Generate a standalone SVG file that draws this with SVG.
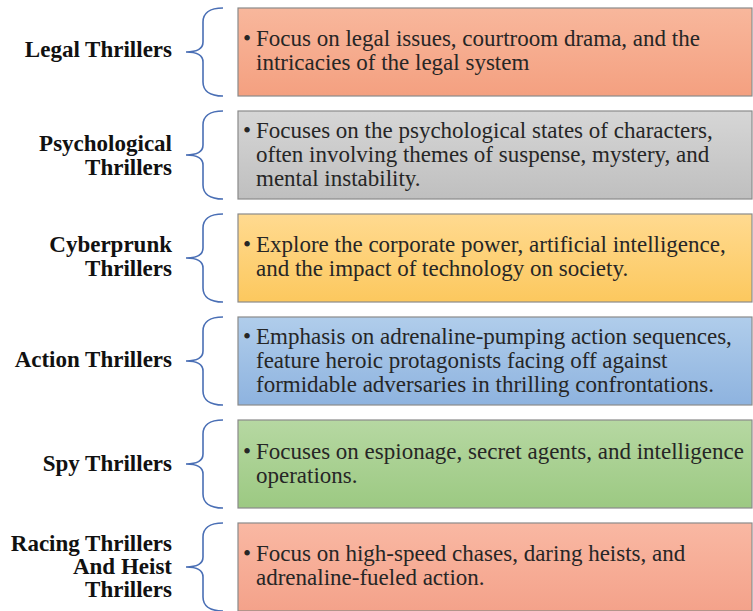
<svg xmlns="http://www.w3.org/2000/svg" width="753" height="611" viewBox="0 0 753 611">
<style>
.lbl{font-family:"Liberation Serif","Times New Roman",serif;font-weight:bold;font-size:23px;fill:#111;text-anchor:end}
.txt{font-family:"Liberation Serif","Times New Roman",serif;font-size:23px;fill:#262626}
.box{stroke:#8a8a8a;stroke-width:1.2}
.brace{fill:none;stroke:#4a6fb5;stroke-width:1.6}
</style>
<defs>
<linearGradient id="gOrange" x1="0" y1="0" x2="0" y2="1"><stop offset="0" stop-color="#f8b79c"/><stop offset="1" stop-color="#f4a080"/></linearGradient>
<linearGradient id="gGray" x1="0" y1="0" x2="0" y2="1"><stop offset="0" stop-color="#d6d6d6"/><stop offset="1" stop-color="#bfbfbf"/></linearGradient>
<linearGradient id="gYellow" x1="0" y1="0" x2="0" y2="1"><stop offset="0" stop-color="#ffda90"/><stop offset="1" stop-color="#fcc85e"/></linearGradient>
<linearGradient id="gBlue" x1="0" y1="0" x2="0" y2="1"><stop offset="0" stop-color="#b0cdeb"/><stop offset="1" stop-color="#8eb3df"/></linearGradient>
<linearGradient id="gGreen" x1="0" y1="0" x2="0" y2="1"><stop offset="0" stop-color="#b6d8a2"/><stop offset="1" stop-color="#9cc982"/></linearGradient>
<linearGradient id="gSalmon" x1="0" y1="0" x2="0" y2="1"><stop offset="0" stop-color="#f9b8a3"/><stop offset="1" stop-color="#f4a28a"/></linearGradient>
<path id="br" d="M223,0 C209,0 203,6 203,14 L203,34 C203,40 198,44 186,44 C198,44 203,48 203,54 L203,74 C203,82 209,88 223,88"/>
</defs>
<g id="connectors">
<use href="#br" class="brace" transform="translate(0,8)"/>
<use href="#br" class="brace" transform="translate(0,111)"/>
<use href="#br" class="brace" transform="translate(0,214)"/>
<use href="#br" class="brace" transform="translate(0,317)"/>
<use href="#br" class="brace" transform="translate(0,420)"/>
<use href="#br" class="brace" transform="translate(0,523)"/>
</g>
<g id="legal">
<text class="lbl" x="172" y="57">Legal Thrillers</text>
<rect class="box" x="238" y="8" width="514" height="88" fill="url(#gOrange)"/>
<text class="txt" fill="#3a1f14"><tspan x="243" y="46">•</tspan><tspan x="256" y="46">Focus on legal issues, courtroom drama, and the</tspan><tspan x="256" y="70">intricacies of the legal system</tspan></text>
</g>
<g id="psychological">
<text class="lbl"><tspan x="172" y="151">Psychological</tspan><tspan x="172" y="175">Thrillers</tspan></text>
<rect class="box" x="238" y="111" width="514" height="88" fill="url(#gGray)"/>
<text class="txt"><tspan x="243" y="138">•</tspan><tspan x="256" y="138">Focuses on the psychological states of characters,</tspan><tspan x="256" y="162">often involving themes of suspense, mystery, and</tspan><tspan x="256" y="186">mental instability.</tspan></text>
</g>
<g id="cyberprunk">
<text class="lbl"><tspan x="172" y="252">Cyberprunk</tspan><tspan x="172" y="276">Thrillers</tspan></text>
<rect class="box" x="238" y="214" width="514" height="88" fill="url(#gYellow)"/>
<text class="txt" fill="#33260e"><tspan x="243" y="252">•</tspan><tspan x="256" y="252">Explore the corporate power, artificial intelligence,</tspan><tspan x="256" y="276">and the impact of technology on society.</tspan></text>
</g>
<g id="action">
<text class="lbl" x="172" y="367">Action Thrillers</text>
<rect class="box" x="238" y="317" width="514" height="88" fill="url(#gBlue)"/>
<text class="txt" fill="#1e2638"><tspan x="243" y="344">•</tspan><tspan x="256" y="344">Emphasis on adrenaline-pumping action sequences,</tspan><tspan x="256" y="368">feature heroic protagonists facing off against</tspan><tspan x="256" y="392">formidable adversaries in thrilling confrontations.</tspan></text>
</g>
<g id="spy">
<text class="lbl" x="172" y="471">Spy Thrillers</text>
<rect class="box" x="238" y="420" width="514" height="88" fill="url(#gGreen)"/>
<text class="txt" fill="#1c2a16"><tspan x="243" y="459">•</tspan><tspan x="256" y="459">Focuses on espionage, secret agents, and intelligence</tspan><tspan x="256" y="483">operations.</tspan></text>
</g>
<g id="racing">
<text class="lbl"><tspan x="172" y="551">Racing Thrillers</tspan><tspan x="172" y="574">And Heist</tspan><tspan x="172" y="597">Thrillers</tspan></text>
<rect class="box" x="238" y="523" width="514" height="88" fill="url(#gSalmon)"/>
<text class="txt" fill="#3a1f16"><tspan x="243" y="561">•</tspan><tspan x="256" y="561">Focus on high-speed chases, daring heists, and</tspan><tspan x="256" y="585">adrenaline-fueled action.</tspan></text>
</g>
</svg>
